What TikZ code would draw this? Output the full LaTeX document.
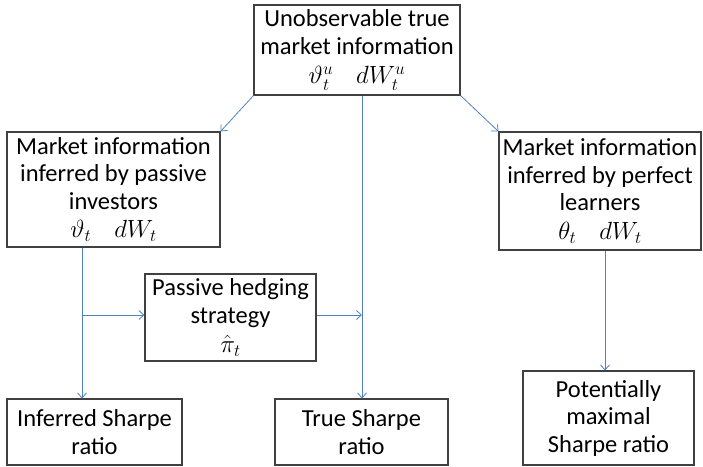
\documentclass[tikz,border=0pt]{standalone}
\usepackage{fontspec}
\setmainfont{Carlito}
\usetikzlibrary{arrows.meta}
\definecolor{linkblue}{RGB}{79,129,189}
\definecolor{boxgray}{RGB}{64,64,64}
\tikzset{
  infobox/.style={draw=boxgray,line width=1.1pt,align=center,inner sep=0pt,
    font=\fontsize{24.5}{27.5}\selectfont},
  link/.style={draw=linkblue,line width=0.8pt,-{Straight Barb[length=5pt,width=9pt]}},
}
\newcommand{\mathline}[1]{\fontsize{23}{23}\selectfont$#1$}
\begin{document}
\begin{tikzpicture}[x=1pt,y=-1pt]
  \useasboundingbox (0,0) rectangle (703,466);
  % boxes
  \node[infobox,minimum width=206pt,minimum height=90pt] (truth) at (357,50)
    {Unobservable true\\market information\\[2pt]\mathline{\vartheta^u_t\quad dW^u_t}};
  \node[infobox,minimum width=213pt,minimum height=115pt] (passive) at (113.5,189.5)
    {Market information\\inferred by passive\\investors\\[1pt]\mathline{\vartheta_t\quad dW_t}};
  \node[infobox,minimum width=202pt,minimum height=118pt] (perfect) at (600,191)
    {Market information\\inferred by perfect\\learners\\[1pt]\mathline{\theta_t\quad dW_t}};
  \node[infobox,minimum width=171pt,minimum height=87pt] (hedge) at (230.5,317.5)
    {Passive hedging\\strategy\\[2pt]\mathline{\hat{\pi}_t}};
  \node[infobox,minimum width=175pt,minimum height=66pt] (inferred) at (94.5,432)
    {Inferred Sharpe\\ratio};
  \node[infobox,minimum width=173pt,minimum height=66pt] (truesr) at (361.5,432)
    {True Sharpe\\ratio};
  \node[infobox,minimum width=171pt,minimum height=94pt] (maxsr) at (608.5,418)
    {Potentially\\maximal\\Sharpe ratio};
  % branch points
  \coordinate (split) at (82,315);
  \coordinate (merge) at (362,315);
  \coordinate (drop) at (605,0);
  % connectors
  \draw[link] (truth.south west) -- (passive.north east);
  \draw[link] (truth.south east) -- (perfect.north west);
  \draw[link] (truth.south -| merge) -- (truesr.north -| merge);
  \draw[link] (passive.south -| split) -- (inferred.north -| split);
  \draw[link] (split) -- (hedge.west |- split);
  \draw[link] (hedge.east |- merge) -- (merge);
  \draw[link] (perfect.south -| drop) -- (maxsr.north -| drop);
\end{tikzpicture}
\end{document}
